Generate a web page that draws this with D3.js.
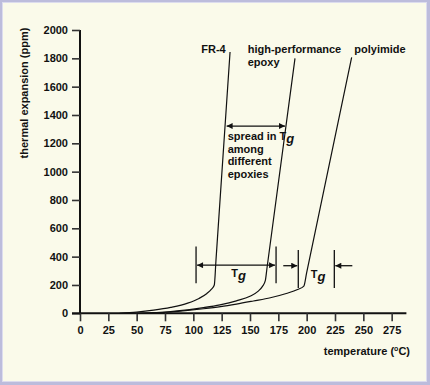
<!DOCTYPE html>
<html>
<head>
<meta charset="utf-8">
<script src="https://cdn.jsdelivr.net/npm/d3@7"></script>
<style>
  html, body { margin: 0; padding: 0; background: #fff; }
  svg text { font-family: Arial, "Liberation Sans", sans-serif; font-weight: bold; fill: #111; }
</style>
</head>
<body>
<svg id="chart" width="430" height="385"></svg>
<script>
// readings: [temperature °C, expansion ppm]
const fr4 = [[35, 0], [50, 8], [65, 22], [80, 42], [95, 72], [105, 105], [112, 140], [116, 170], [118.5, 200], [120, 377], [132.4, 1845]];
const hpEpoxy = [[50, 0], [80, 12], [95, 24], [109, 40], [123.5, 60], [138, 88], [150, 120], [157, 155], [161, 190], [163.5, 230], [165, 320], [189.7, 1800]];
const polyimide = [[62, 0], [80, 9], [95, 20], [109, 32], [124, 47], [138, 65], [153, 87], [168, 110], [182, 140], [192, 168], [197.5, 192], [200, 288], [239.7, 1807]];

const seriesNames = ['FR-4', 'high-performance|epoxy', 'polyimide'];
const seriesLabelAt = [[107, 1840], [148, 1840], [242, 1840]];

const yTicks = [0, 200, 400, 600, 800, 1000, 1200, 1400, 1600, 1800, 2000];
const xTicks = [0, 25, 50, 75, 100, 125, 150, 175, 200, 225, 250, 275];

// Tg spans: lo/hi temperatures, bar extent in ppm, arrow height, arrows inside or outside
const tgSpans = [
  { lo: 102.4, hi: 173, bottom: 212, top: 472, arrowAt: 340, inside: true, labelAt: 140 },
  { lo: 192.6, hi: 224.4, bottom: 178, top: 446, arrowAt: 336, inside: false, labelAt: 210 }
];
const spreadArrow = { from: 129.4, to: 180.9, at: 1322 };
const spreadText = ['spread in T', 'among', 'different', 'epoxies'];

const svg = d3.select('#chart');
const width = 430, height = 385;

// frame
svg.append('rect').attr('width', width).attr('height', height).attr('fill', '#bcbcdc');
svg.append('rect').attr('x', 2.5).attr('y', 2.5).attr('width', 424).attr('height', 379)
  .attr('fill', '#fafaea').attr('stroke', '#dcdcee').attr('stroke-width', 1);

const x = d3.scaleLinear().domain([0, 288]).range([80, 406.4]);
const y = d3.scaleLinear().domain([0, 2000]).range([313.3, 30]);

// markers
const defs = svg.append('defs');
defs.append('marker')
  .attr('id', 'head')
  .attr('viewBox', '0 0 10 10')
  .attr('refX', 10).attr('refY', 5)
  .attr('markerUnits', 'userSpaceOnUse')
  .attr('markerWidth', 8).attr('markerHeight', 6)
  .attr('orient', 'auto-start-reverse')
  .append('path').attr('d', 'M0,0 L10,5 L0,10 Z').attr('fill', '#111');

// axes
const yAxis = svg.append('g').attr('transform', `translate(${x(0)},0)`)
  .call(d3.axisLeft(y).tickValues(yTicks).tickFormat(d3.format('d')).tickSize(8).tickPadding(4).tickSizeOuter(0));
const xAxis = svg.append('g').attr('transform', `translate(0,${y(0)})`)
  .call(d3.axisBottom(x).tickValues(xTicks).tickFormat(d3.format('d')).tickSize(8).tickPadding(5).tickSizeOuter(0));

[yAxis, xAxis].forEach((ax) => {
  ax.select('.domain').attr('stroke', '#111').attr('stroke-width', 2);
  ax.selectAll('.tick line').attr('stroke', '#333').attr('stroke-width', 1.6);
  ax.selectAll('.tick text').attr('font-size', 11).attr('font-family', null).attr('fill', '#111');
});
yAxis.select('.domain').attr('d', `M0,${y(2000)}V${y(0) + 1}`);
xAxis.select('.domain').attr('d', `M${x(0) - 8},0H${x(288)}`);

// axis titles
svg.append('text')
  .attr('transform', `translate(28,93) rotate(-90)`)
  .attr('text-anchor', 'middle')
  .attr('font-size', 11)
  .text('thermal expansion (ppm)');

const xt = svg.append('text').attr('x', 410).attr('y', 355).attr('text-anchor', 'end').attr('font-size', 11);
xt.append('tspan').text('temperature (');
xt.append('tspan').attr('font-size', 7).attr('dy', -4).text('o');
xt.append('tspan').attr('dy', 4).text('C)');

// curves
const line = d3.line().x((d) => x(d[0])).y((d) => y(d[1])).curve(d3.curveMonotoneX);
[fr4, hpEpoxy, polyimide].forEach((s) => {
  svg.append('path').datum(s).attr('d', line)
    .attr('fill', 'none').attr('stroke', '#111').attr('stroke-width', 1.2);
});

// series labels
seriesNames.forEach((name, i) => {
  const t = svg.append('text').attr('x', x(seriesLabelAt[i][0])).attr('y', y(seriesLabelAt[i][1]))
    .attr('font-size', 11);
  name.split('|').forEach((part, j) => {
    t.append('tspan').attr('x', x(seriesLabelAt[i][0])).attr('dy', j ? 13 : 0).text(part);
  });
});

function tgLabel(cx, cy) {
  const t = svg.append('text').attr('x', cx).attr('y', cy).attr('text-anchor', 'middle');
  t.append('tspan').attr('font-size', 11).text('T');
  t.append('tspan').attr('font-size', 13).attr('font-style', 'italic').attr('dy', 3).text('g');
}

// Tg spans
tgSpans.forEach((s) => {
  [s.lo, s.hi].forEach((t) => {
    svg.append('line')
      .attr('x1', x(t)).attr('x2', x(t))
      .attr('y1', y(s.bottom)).attr('y2', y(s.top))
      .attr('stroke', '#111').attr('stroke-width', 1.3);
  });
  if (s.inside) {
    svg.append('line')
      .attr('x1', x(s.lo) + 1).attr('x2', x(s.hi) - 1)
      .attr('y1', y(s.arrowAt)).attr('y2', y(s.arrowAt))
      .attr('stroke', '#111').attr('stroke-width', 1.3)
      .attr('marker-start', 'url(#head)').attr('marker-end', 'url(#head)');
  } else {
    svg.append('line')
      .attr('x1', x(s.lo) - 15).attr('x2', x(s.lo) - 1)
      .attr('y1', y(s.arrowAt)).attr('y2', y(s.arrowAt))
      .attr('stroke', '#111').attr('stroke-width', 1.3).attr('marker-end', 'url(#head)');
    svg.append('line')
      .attr('x1', x(s.hi) + 18).attr('x2', x(s.hi) + 1)
      .attr('y1', y(s.arrowAt)).attr('y2', y(s.arrowAt))
      .attr('stroke', '#111').attr('stroke-width', 1.3).attr('marker-end', 'url(#head)');
  }
  tgLabel(x(s.labelAt), y(s.arrowAt) + 12);
});

// spread in Tg
svg.append('line')
  .attr('x1', x(spreadArrow.from)).attr('x2', x(spreadArrow.to))
  .attr('y1', y(spreadArrow.at)).attr('y2', y(spreadArrow.at))
  .attr('stroke', '#111').attr('stroke-width', 1.3)
  .attr('marker-start', 'url(#head)').attr('marker-end', 'url(#head)');

const st = svg.append('text').attr('font-size', 11);
spreadText.forEach((line, i) => {
  st.append('tspan').attr('x', x(spreadArrow.from) + 1).attr('y', y(spreadArrow.at) + 14 + i * 12.7).text(line);
});
const firstLine = st.select('tspan');
st.append('tspan')
  .attr('x', x(spreadArrow.from) + 1 + firstLine.node().getComputedTextLength())
  .attr('y', y(spreadArrow.at) + 17)
  .attr('font-size', 13).attr('font-style', 'italic').text('g');
</script>
</body>
</html>
